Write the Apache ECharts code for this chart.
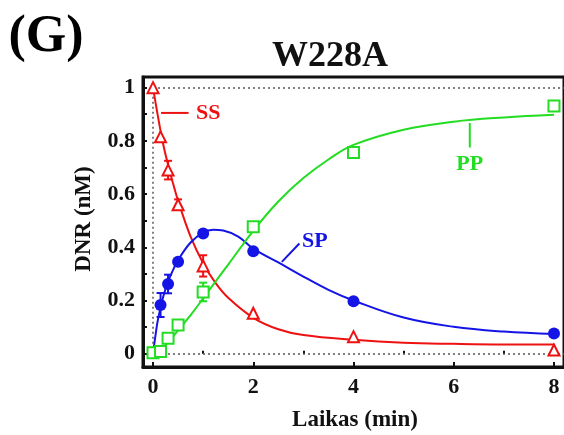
<!DOCTYPE html>
<html><head><meta charset="utf-8">
<script src="https://cdn.jsdelivr.net/npm/echarts@6/dist/echarts.min.js"></script>
<style>html,body{margin:0;padding:0;background:#fff}#c{width:564px;height:435px}</style>
</head><body><div id="c"></div>
<script>
// ---- data ----
const sampleTimes = [0, 0.15, 0.3, 0.5, 1, 2, 4, 8];
const ssValues = [1.0, 0.815, 0.69, 0.56, 0.33, 0.152, 0.064, 0.014];
const spTimes = [0.15, 0.3, 0.5, 1, 2, 4, 8];
const spValues = [0.183, 0.262, 0.346, 0.452, 0.385, 0.197, 0.076];
const ppValues = [0.004, 0.008, 0.058, 0.108, 0.232, 0.477, 0.756, 0.931];

const ssErrTimes = [0.3, 0.5, 1];
const ssErrSizes = [0.035, 0.02, 0.04];
const spErrTimes = [0.15, 0.3];
const spErrSizes = [0.045, 0.035];
const ppErrTimes = [1];
const ppErrSizes = [0.035];

// fitted curves
const ssFitT = [0, 0.1, 0.2, 0.3, 0.4, 0.5, 0.75, 1, 1.25, 1.5, 2, 2.5, 3, 4, 5, 6, 7, 8];
const ssFitV = [1.0, 0.89, 0.79, 0.71, 0.64, 0.575, 0.44, 0.34, 0.265, 0.21, 0.135, 0.092, 0.07, 0.052, 0.041, 0.037, 0.035, 0.035];
const spFitT = [0, 0.05, 0.1, 0.2, 0.3, 0.4, 0.5, 0.75, 1, 1.2, 1.4, 1.7, 2, 2.5, 3, 3.5, 4, 5, 6, 7, 8];
const spFitV = [0, 0.07, 0.13, 0.212, 0.27, 0.315, 0.352, 0.418, 0.455, 0.466, 0.463, 0.44, 0.395, 0.343, 0.29, 0.24, 0.2, 0.136, 0.101, 0.083, 0.074];
const ppFitT = [0, 0.1, 0.2, 0.3, 0.4, 0.5, 0.75, 1, 1.25, 1.5, 2, 2.5, 3, 3.5, 4, 5, 6, 7, 8];
const ppFitV = [0, 0.008, 0.022, 0.043, 0.065, 0.088, 0.145, 0.208, 0.272, 0.335, 0.462, 0.572, 0.66, 0.73, 0.785, 0.842, 0.872, 0.888, 0.898];

const xTickLabels = [0, 2, 4, 6, 8];
const xMinorTicks = [1, 3, 5, 7];
const yTickLabels = [0, 0.2, 0.4, 0.6, 0.8, 1];
const yTicks = [0, 0.1, 0.2, 0.3, 0.4, 0.5, 0.6, 0.7, 0.8, 0.9, 1];

// reference dotted lines (data coords)
const refLines = [
  [[0, 1], [8.2, 1]],
  [[0, 0], [8.2, 0]],
  [[0, 0], [0, 1]]
];

// annotation labels (data coords)
const annotations = [
  {text: 'SS', color: '#ee1111', at: [1.1, 0.905], line: [[0.16, 0.905], [0.71, 0.905]]},
  {text: 'SP', color: '#1414e6', at: [3.23, 0.424], line: [[2.57, 0.345], [2.92, 0.414]]},
  {text: 'PP', color: '#22dd22', at: [6.32, 0.713], line: [[6.32, 0.867], [6.32, 0.775]]}
];

const RED = '#ee1111', BLUE = '#1414e6', GREEN = '#22dd22';
const FONT = '"Liberation Serif", "Times New Roman", serif';

const zip = (a, b) => a.map((v, i) => [v, b[i]]);
function errData(times, sizes, xs, ys) {
  return times.map((t, i) => {
    const v = ys[xs.indexOf(t)];
    return [t, v - sizes[i], v + sizes[i]];
  });
}
function errSeries(data, color) {
  return {
    type: 'custom', xAxisIndex: 0, yAxisIndex: 0, z: 4,
    data: data,
    renderItem: function (params, api) {
      const x = api.value(0);
      const lo = api.coord([x, api.value(1)]);
      const hi = api.coord([x, api.value(2)]);
      const w = 4;
      const st = {stroke: color, lineWidth: 2};
      return {type: 'group', children: [
        {type: 'line', shape: {x1: lo[0], y1: lo[1], x2: hi[0], y2: hi[1]}, style: st},
        {type: 'line', shape: {x1: lo[0] - w, y1: lo[1], x2: lo[0] + w, y2: lo[1]}, style: st},
        {type: 'line', shape: {x1: hi[0] - w, y1: hi[1], x2: hi[0] + w, y2: hi[1]}, style: st}
      ]};
    }
  };
}

const chart = echarts.init(document.getElementById('c'), null, {renderer: 'canvas'});
const option = {
  animation: false,
  backgroundColor: '#fff',
  grid: {left: 143, top: 77, right: -4, bottom: 68, show: true, borderColor: '#111', borderWidth: 3, backgroundColor: 'transparent'},
  xAxis: [{
    type: 'value', min: -0.2, max: 8.2,
    axisLine: {show: true, onZero: false, lineStyle: {color: '#111', width: 3}},
    axisTick: {show: true, inside: true, length: 5, customValues: xTickLabels, lineStyle: {color: '#111', width: 2}},
    axisLabel: {customValues: xTickLabels, color: '#111', fontFamily: FONT, fontWeight: 'bold', fontSize: 22, margin: 9},
    splitLine: {show: false}
  }, {
    type: 'value', min: -0.2, max: 8.2, position: 'bottom',
    axisLine: {show: false},
    axisTick: {show: true, inside: true, length: 3, customValues: xMinorTicks, lineStyle: {color: '#111', width: 2}},
    axisLabel: {show: false},
    splitLine: {show: false}
  }],
  yAxis: [{
    type: 'value', min: -0.05, max: 1.04,
    axisLine: {show: true, onZero: false, lineStyle: {color: '#111', width: 3}},
    axisTick: {show: true, inside: true, length: 4, customValues: yTicks, lineStyle: {color: '#111', width: 2}},
    axisLabel: {customValues: yTickLabels, color: '#111', fontFamily: FONT, fontWeight: 'bold', fontSize: 22, margin: 8,
      formatter: v => String(Math.round(v * 10) / 10)},
    splitLine: {show: false}
  }],
  series: [
    {type: 'line', data: zip(ssFitT, ssFitV), smooth: 0.4, showSymbol: false, lineStyle: {color: RED, width: 2}, z: 2,
      markLine: {silent: true, symbol: 'none', label: {show: false},
        lineStyle: {color: '#555', type: [2, 3], width: 1.5},
        data: refLines.map(l => [{coord: l[0]}, {coord: l[1]}])}},
    {type: 'line', data: zip(spFitT, spFitV), smooth: 0.4, showSymbol: false, lineStyle: {color: BLUE, width: 2}, z: 2},
    {type: 'line', data: zip(ppFitT, ppFitV), smooth: 0.4, showSymbol: false, lineStyle: {color: GREEN, width: 2}, z: 2},
    errSeries(errData(ssErrTimes, ssErrSizes, sampleTimes, ssValues), RED),
    errSeries(errData(spErrTimes, spErrSizes, spTimes, spValues), BLUE),
    errSeries(errData(ppErrTimes, ppErrSizes, sampleTimes, ppValues), GREEN),
    {type: 'scatter', data: zip(sampleTimes, ppValues), symbol: 'rect', symbolSize: 11, z: 5,
      itemStyle: {color: '#fff', borderColor: GREEN, borderWidth: 2, opacity: 1}},
    {type: 'scatter', data: zip(spTimes, spValues), symbol: 'circle', symbolSize: 12, z: 5,
      itemStyle: {color: BLUE, opacity: 1}},
    {type: 'scatter', data: zip(sampleTimes, ssValues), symbol: 'triangle', symbolSize: 11, z: 6,
      itemStyle: {color: '#fff', borderColor: RED, borderWidth: 2, opacity: 1}}
  ]
};
chart.setOption(option);

const px = p => chart.convertToPixel({gridIndex: 0}, p);
const graphics = [
  {type: 'text', x: 46, y: 38, style: {text: '(G)', font: 'bold 52px ' + FONT, fill: '#000', align: 'center', verticalAlign: 'middle'}},
  {type: 'text', x: 330, y: 57, style: {text: 'W228A', font: 'bold 36px ' + FONT, fill: '#111', align: 'center', verticalAlign: 'middle'}},
  {type: 'text', x: 84, y: 219, rotation: Math.PI / 2, style: {text: 'DNR (nM)', font: 'bold 23px ' + FONT, fill: '#111', align: 'center', verticalAlign: 'middle'}},
  {type: 'text', x: 355, y: 420, style: {text: 'Laikas (min)', font: 'bold 23px ' + FONT, fill: '#111', align: 'center', verticalAlign: 'middle'}}
];
annotations.forEach(a => {
  const p = px(a.at), l0 = px(a.line[0]), l1 = px(a.line[1]);
  graphics.push({type: 'line', z: 10, shape: {x1: l0[0], y1: l0[1], x2: l1[0], y2: l1[1]}, style: {stroke: a.color, lineWidth: 2}});
  graphics.push({type: 'text', z: 10, x: p[0], y: p[1], style: {text: a.text, font: 'bold 22px ' + FONT, fill: a.color, align: 'center', verticalAlign: 'middle'}});
});
chart.setOption({graphic: graphics});
</script>
</body></html>
